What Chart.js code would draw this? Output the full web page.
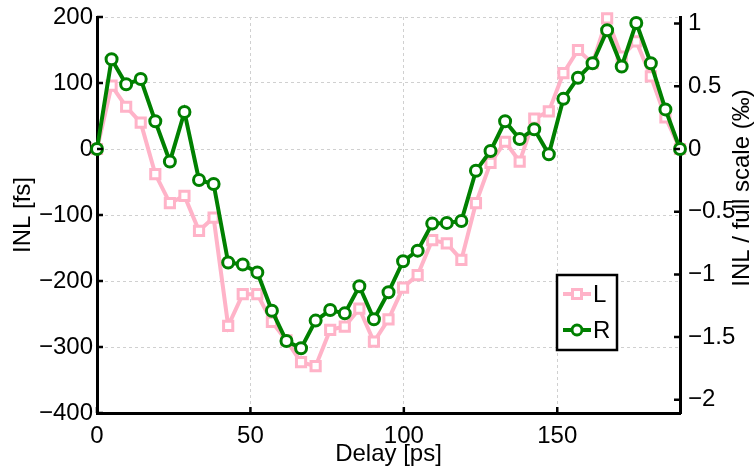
<!DOCTYPE html>
<html>
<head>
<meta charset="utf-8">
<script src="https://cdn.jsdelivr.net/npm/chart.js@4.4.1/dist/chart.umd.min.js"></script>
<style>
  html, body { margin: 0; padding: 0; background: #fff; }
  #wrap { width: 755px; height: 470px; }
</style>
</head>
<body>
<div id="wrap"><canvas id="c" width="755" height="470"></canvas></div>
<script>
// ---- data ----
const delayPs = [0,4.75,9.5,14.25,19,23.75,28.5,33.25,38,42.75,47.5,52.25,57,61.75,66.5,71.25,76,80.75,85.5,90.25,95,99.75,104.5,109.25,114,118.75,123.5,128.25,133,137.75,142.5,147.25,152,156.75,161.5,166.25,171,175.75,180.5,185.25,190];
const inlL = [0,96,64,40,-38,-82,-71,-124,-104,-268,-220,-220,-262,-290,-323,-329,-274,-269,-242,-292,-258,-210,-191,-138,-143,-168,-82,-21,11,-19,46,57,115,150,130,198,140,163,110,48,0];
const inlR = [0,136,98,106,42,-19,56,-47,-53,-172,-175,-187,-245,-291,-302,-260,-244,-249,-208,-258,-217,-170,-154,-113,-112,-109,-33,-3,42,15,30,-8,76,108,130,180,125,191,130,60,0];
const seriesNames = ['L', 'R'];
const xTicks = [0, 50, 100, 150];
const yTicks = [-400, -300, -200, -100, 0, 100, 200];
const y2Ticks = [-2, -1.5, -1, -0.5, 0, 0.5, 1];
const fullScaleFs = 190; // 190 ps full scale -> 1 permille = 190 fs

const PINK = '#ffb3c8';
const GREEN = '#008000';
const FONT = "'Liberation Sans', Arial, Helvetica, sans-serif";

Chart.defaults.font.family = FONT;
Chart.defaults.font.size = 24;
Chart.defaults.color = '#000';

const minus = s => String(s).replace('-', '\u2212');
const noPad = s => { s.paddingTop = 0; s.paddingBottom = 0; s.paddingLeft = 0; s.paddingRight = 0; };

const innerTicks = {
  id: 'innerTicks',
  afterDatasetsDraw(chart) {
    const ctx = chart.ctx, a = chart.chartArea, L = 6;
    ctx.save();
    ctx.strokeStyle = '#000';
    ctx.lineWidth = 2.5;
    ctx.beginPath();
    chart.scales.y.ticks.forEach(t => {
      const p = chart.scales.y.getPixelForValue(t.value);
      ctx.moveTo(a.left, p); ctx.lineTo(a.left + L, p);
    });
    chart.scales.y2.ticks.forEach(t => {
      const p = chart.scales.y2.getPixelForValue(t.value);
      ctx.moveTo(a.right, p); ctx.lineTo(a.right - L, p);
    });
    chart.scales.x.ticks.forEach(t => {
      const p = chart.scales.x.getPixelForValue(t.value);
      ctx.moveTo(p, a.bottom); ctx.lineTo(p, a.bottom - L);
    });
    ctx.stroke();
    ctx.restore();
  }
};

const rightTitle = {
  id: 'rightTitle',
  afterDraw(chart) {
    const ctx = chart.ctx;
    ctx.save();
    ctx.translate(742, 188);
    ctx.rotate(-Math.PI / 2);
    ctx.font = '24px ' + FONT;
    ctx.fillStyle = '#000';
    ctx.textAlign = 'center';
    ctx.textBaseline = 'middle';
    ctx.fillText('INL / full scale (\u2030)', 0, 0);
    ctx.restore();
  }
};

const boxLegend = {
  id: 'boxLegend',
  afterDraw(chart) {
    const ctx = chart.ctx;
    const bx = 557, by = 275, bw = 60, bh = 75;
    ctx.save();
    ctx.fillStyle = '#fff';
    ctx.fillRect(bx, by, bw, bh);
    ctx.strokeStyle = '#000';
    ctx.lineWidth = 2.5;
    ctx.strokeRect(bx, by, bw, bh);
    const rows = [by + 19, by + 55];
    chart.data.datasets.forEach((ds, i) => {
      const y = rows[i];
      ctx.strokeStyle = ds.borderColor;
      ctx.lineWidth = 4;
      ctx.beginPath(); ctx.moveTo(bx + 6, y); ctx.lineTo(bx + 34, y); ctx.stroke();
      const cx = bx + 20;
      ctx.lineWidth = 3;
      ctx.fillStyle = '#fff';
      if (ds.pointStyle === 'rect') {
        ctx.fillRect(cx - 4.5, y - 4.5, 9, 9);
        ctx.strokeRect(cx - 4.5, y - 4.5, 9, 9);
      } else {
        ctx.beginPath(); ctx.arc(cx, y, 5, 0, Math.PI * 2); ctx.fill(); ctx.stroke();
      }
      ctx.fillStyle = '#000';
      ctx.font = '24px ' + FONT;
      ctx.textAlign = 'left';
      ctx.textBaseline = 'middle';
      ctx.fillText(ds.label, bx + 36, y + 1);
    });
    ctx.restore();
  }
};

new Chart(document.getElementById('c'), {
  type: 'line',
  data: {
    datasets: [
      {
        label: seriesNames[0],
        data: delayPs.map((x, i) => ({ x, y: inlL[i] })),
        borderColor: PINK, backgroundColor: '#fff',
        borderWidth: 4, pointStyle: 'rect', pointRadius: 6.5,
        pointBorderWidth: 3, pointBorderColor: PINK, pointBackgroundColor: '#fff',
        tension: 0, clip: false, order: 2, yAxisID: 'y'
      },
      {
        label: seriesNames[1],
        data: delayPs.map((x, i) => ({ x, y: inlR[i] })),
        borderColor: GREEN, backgroundColor: '#fff',
        borderWidth: 4, pointStyle: 'circle', pointRadius: 5.5,
        pointBorderWidth: 3, pointBorderColor: GREEN, pointBackgroundColor: '#fff',
        tension: 0, clip: false, order: 1, yAxisID: 'y'
      }
    ]
  },
  options: {
    responsive: false,
    animation: false,
    events: [],
    layout: { padding: { top: 17, left: 0, right: 0, bottom: 0 } },
    plugins: { legend: { display: false }, tooltip: { enabled: false } },
    scales: {
      x: {
        type: 'linear', min: 0, max: 190,
        afterBuildTicks: s => { s.ticks = xTicks.map(v => ({ value: v })); },
        afterFit: s => { s.height = 57; noPad(s); },
        grid: { color: '#d0d0d0', lineWidth: 1, drawTicks: false },
        border: { display: true, color: '#000', width: 3, dash: [3, 3] },
        ticks: { padding: 9, maxRotation: 0, callback: v => minus(v) },
        title: { display: true, text: 'Delay [ps]', padding: { top: 0, bottom: 1 } }
      },
      y: {
        type: 'linear', position: 'left', min: -400, max: 200,
        afterBuildTicks: s => { s.ticks = yTicks.map(v => ({ value: v })); },
        afterFit: s => { s.width = 97; noPad(s); },
        grid: { color: '#d0d0d0', lineWidth: 1, drawTicks: false },
        border: { display: true, color: '#000', width: 3, dash: [3, 3] },
        ticks: { padding: 4, callback: v => minus(v) },
        title: { display: true, text: 'INL [fs]', padding: { top: 9, bottom: 0 } }
      },
      y2: {
        type: 'linear', position: 'right',
        min: -400 / fullScaleFs, max: 200 / fullScaleFs,
        afterBuildTicks: s => { s.ticks = y2Ticks.map(v => ({ value: v })); },
        afterFit: s => { s.width = 75; noPad(s); },
        grid: { display: false, drawTicks: false },
        border: { display: true, color: '#000', width: 3 },
        ticks: { padding: 8, callback: v => minus(v) }
      }
    }
  },
  plugins: [innerTicks, rightTitle, boxLegend]
});
</script>
</body>
</html>
